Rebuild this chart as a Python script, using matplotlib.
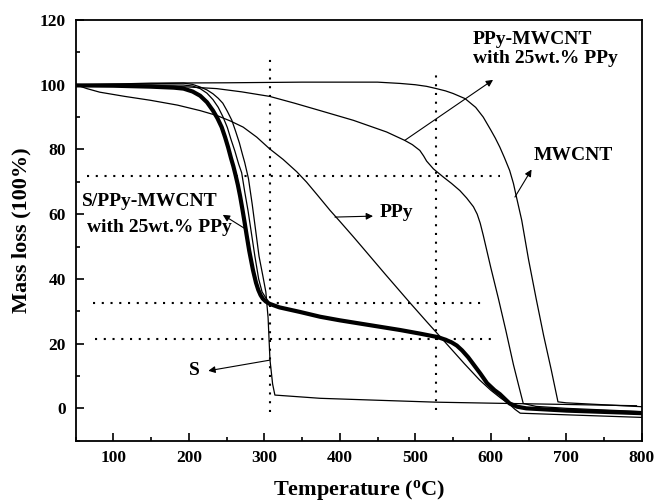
import matplotlib
matplotlib.use('Agg')
import matplotlib.pyplot as plt
from matplotlib.ticker import MultipleLocator

plt.rcParams['font.family'] = ['Liberation Serif', 'DejaVu Serif']
plt.rcParams['font.weight'] = 'bold'
plt.rcParams['mathtext.fontset'] = 'custom'
plt.rcParams['mathtext.rm'] = 'Liberation Serif:bold'
plt.rcParams['mathtext.bf'] = 'Liberation Serif:bold'
plt.rcParams['mathtext.it'] = 'Liberation Serif:bold'

# ---------------- data ----------------
mwcnt_T = [50, 100, 150, 250, 350, 450, 480, 500, 515, 528, 540, 550, 566, 580, 590,
           600, 606, 612, 618, 625, 630, 634, 641, 650, 660, 670, 680, 689, 700, 750, 800]
mwcnt_m = [100, 100.2, 100.5, 100.6, 100.8, 100.8, 100.4, 100.0, 99.5, 98.8, 98.1,
           97.3, 95.7, 93, 90, 86, 83.5, 80.7, 77.5, 73.5, 69.5, 65.3, 58.1, 46, 34,
           22.5, 12, 2, 1.7, 1.1, 0.5]

ppymw_T = [50, 100, 150, 200, 237, 270, 307, 340, 374, 418, 462, 486, 496, 506, 511,
           515, 524, 537, 548, 559, 568, 577, 582, 586, 590, 594, 600, 610, 620, 630,
           637, 643, 660, 700, 800]
ppymw_m = [100, 99.9, 99.8, 99.3, 98.8, 97.8, 96.4, 94.3, 92, 89, 85.4, 82.8, 81.5,
           79.7, 78, 76.4, 74, 71.5, 69.5, 67.3, 65, 62.3, 60, 57.2, 53.5, 49.5, 43.5,
           34, 24, 13.5, 7, 1.5, 0.6, 0, -1.0]

ppy_T = [50, 65, 82, 115, 149, 185, 215, 237, 255, 272, 290, 307, 325, 343, 356, 370,
         387, 400, 418, 429, 460, 493, 515, 537, 565, 585, 600, 613, 625, 632, 639,
         700, 800]
ppy_m = [100, 98.8, 97.7, 96.4, 95.2, 93.7, 92, 90.5, 88.8, 86.9, 83.8, 80.2, 76.9,
         73.1, 69.9, 66, 61.2, 57.8, 53, 50, 41.5, 32.6, 26.8, 21.1, 13.8, 8.8, 5.6,
         3.2, 1.2, -0.3, -1.5, -2.0, -2.8]

s_T = [50, 100, 150, 193, 205, 215, 224, 232, 239, 245, 251, 257, 262, 267, 271, 274,
       279, 284, 288.5, 293, 298, 302, 305, 307.5, 311, 314, 374, 450, 528, 600, 700, 793]
s_m = [100, 100.2, 100.3, 100.5, 100.1, 99.3, 98.4, 97.2, 95.8, 94.3, 91.8, 89, 85.6,
       82, 78.5, 76, 71, 63, 55, 47, 41, 36, 28, 15, 7.5, 4.1, 3.1, 2.5, 1.9, 1.6,
       1.2, 0.8]

s2_T = [50, 150, 193, 205, 215, 224, 232, 239, 245, 251, 256, 261, 266, 270, 274,
        278.5, 283, 287.5, 292.5, 297, 301, 305]
s2_m = [100, 99.9, 99.9, 99.6, 98.8, 97.4, 95.4, 93, 90.2, 86.8, 83, 79.5, 75.5,
        72.8, 67, 61, 54, 47, 40, 36, 34.5, 33.2]

sppy_T = [50, 100, 150, 180, 193, 205, 215, 224, 232, 238, 243.5, 248, 252, 256, 259,
          262, 265, 268, 271, 274, 276.6, 280, 285, 289, 292, 295, 298, 302, 307, 320,
          347, 374, 400, 440, 480, 506, 530, 540, 548, 555, 562, 570, 578, 586, 595, 605,
          612, 620, 625, 635, 647, 700, 800]
sppy_m = [99.8, 99.7, 99.4, 99.1, 98.8, 97.9, 96.6, 94.6, 92, 89.6, 86.9, 83.8, 80.7,
          77.2, 74.8, 72, 69, 65.5, 61.5, 57.3, 53.5, 48.7, 42.7, 38.8, 36.6, 35,
          33.9, 33, 32.3, 31.2, 29.8, 28.3, 27.2, 25.7, 24.2, 23.1, 22, 21.2, 20.4,
          19.4, 17.9, 15.8, 13.3, 10.8, 7.8, 5.6, 4.4, 2.6, 1.5, 0.5, 0, -0.7, -1.5]

# dotted guide lines
vline_T = [307, 528]
vline_lo = [-1, -0.5]
vline_hi = [109.6, 104.6]
hline_m = [71.7, 32.4, 21.4]
hline_lo = [64.7, 73.4, 75.7]
hline_hi = [612, 592, 608]

# ---------------- figure ----------------
fig = plt.figure(figsize=(6.55, 5.04), dpi=100)
ax = fig.add_axes([0.1154, 0.1256, 0.8644, 0.8347])

thin = 0.9
ax.plot(mwcnt_T, mwcnt_m, color='black', lw=thin)
ax.plot(ppymw_T, ppymw_m, color='black', lw=thin)
ax.plot(ppy_T, ppy_m, color='black', lw=thin)
ax.plot(s_T, s_m, color='black', lw=thin)
ax.plot(s2_T, s2_m, color='black', lw=thin)
ax.plot(sppy_T, sppy_m, color='black', lw=3.0, solid_capstyle='round',
        solid_joinstyle='round')

dot = (0, (1, 3.2))
for t, lo, hi in zip(vline_T, vline_lo, vline_hi):
    ax.plot([t, t], [lo, hi], color='black', lw=1.5, linestyle=dot, dash_capstyle='butt')
for m, lo, hi in zip(hline_m, hline_lo, hline_hi):
    ax.plot([lo, hi], [m, m], color='black', lw=1.5, linestyle=dot, dash_capstyle='butt')

ax.set_xlim(50, 800)
ax.set_ylim(-10, 120)
ax.xaxis.set_major_locator(MultipleLocator(100))
ax.xaxis.set_minor_locator(MultipleLocator(50))
ax.yaxis.set_major_locator(MultipleLocator(20))
ax.yaxis.set_minor_locator(MultipleLocator(10))
ax.tick_params(which='both', direction='in', top=False, right=False, width=1.2)
ax.tick_params(which='major', length=5.5, labelsize=12.5, pad=7)
ax.tick_params(which='minor', length=3)
for lab in ax.get_xticklabels() + ax.get_yticklabels():
    lab.set_fontweight('bold')
for sp in ax.spines.values():
    sp.set_linewidth(1.3)

ax.set_xlabel(r'Temperature ($^{\mathrm{o}}$C)', fontsize=16, fontweight='bold', labelpad=8)
ax.set_ylabel('Mass loss (100%)', fontsize=16, fontweight='bold', labelpad=6)

ap = dict(arrowstyle='-|>', color='black', lw=0.8, mutation_scale=10,
          shrinkA=0, shrinkB=0)
fs = 14
ax.text(576, 110.9, 'PPy-MWCNT\nwith 25wt.% PPy', fontsize=fs, fontweight='bold',
        ha='left', va='center', linespacing=1.15)
ax.annotate('', xy=(603, 101.5), xytext=(486, 82.8), arrowprops=ap)

ax.text(709, 78.2, 'MWCNT', fontsize=fs, fontweight='bold', ha='center', va='center')
ax.annotate('', xy=(654, 73.8), xytext=(632, 65.3), arrowprops=ap)

ax.text(475, 60.5, 'PPy', fontsize=fs, fontweight='bold', ha='center', va='center')
ax.annotate('', xy=(444, 59.4), xytext=(393.6, 59.1), arrowprops=ap)

ax.text(148, 63.8, 'S/PPy-MWCNT', fontsize=fs, fontweight='bold', ha='center', va='center')
ax.text(160.7, 56.0, 'with 25wt.% PPy', fontsize=fs, fontweight='bold', ha='center', va='center')
ax.annotate('', xy=(245, 59.8), xytext=(274.6, 55.5), arrowprops=ap)

ax.text(207, 11.6, 'S', fontsize=fs, fontweight='bold', ha='center', va='center')
ax.annotate('', xy=(225.8, 11.6), xytext=(307.5, 14.9), arrowprops=ap)

fig.savefig('out.png', dpi=100)
